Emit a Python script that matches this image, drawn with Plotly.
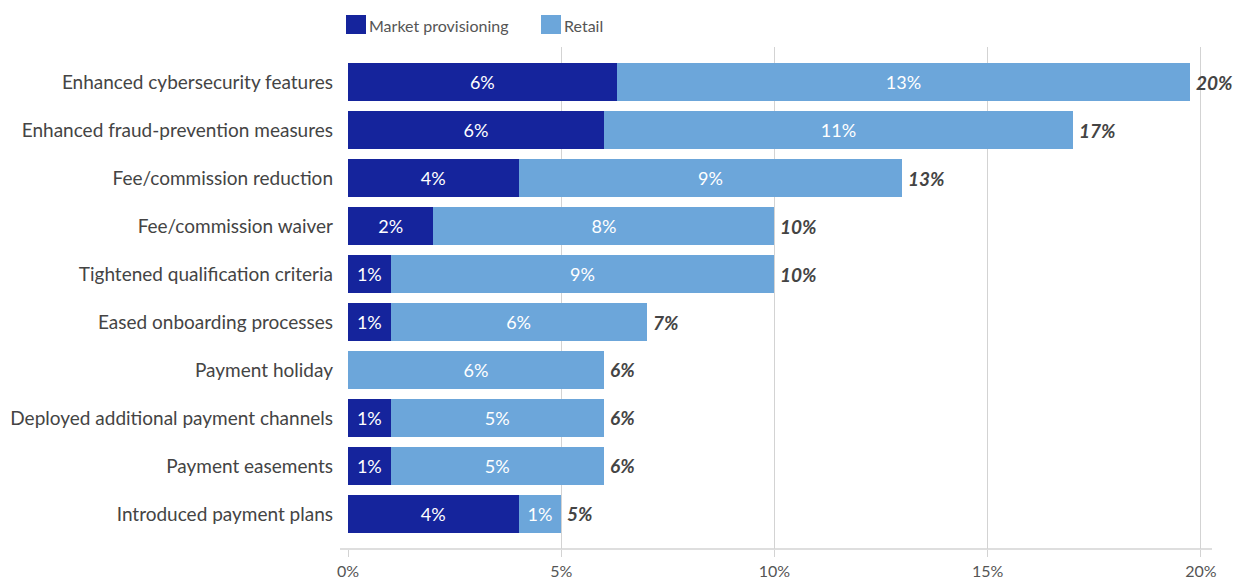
import plotly.graph_objects as go

# Survey responses, top to bottom
categories = [
    "Enhanced cybersecurity features",
    "Enhanced fraud-prevention measures",
    "Fee/commission reduction",
    "Fee/commission waiver",
    "Tightened qualification criteria",
    "Eased onboarding processes",
    "Payment holiday",
    "Deployed additional payment channels",
    "Payment easements",
    "Introduced payment plans",
]
market_provisioning = [6.3, 6, 4, 2, 1, 1, 0, 1, 1, 4]
retail = [13.45, 11, 9, 8, 9, 6, 6, 5, 5, 1]
x_ticks = [0, 5, 10, 15, 20]

DARK = "#15249C"
LIGHT = "#6CA6DA"
TEXT = "#444444"
GRID = "#D3D3D3"
FONT = "Lato"

totals = [m + r for m, r in zip(market_provisioning, retail)]


def seg_labels(vals):
    return [f"{round(v)}%" if v > 0 else "" for v in vals]


fig = go.Figure()
for name, vals, color in [
    ("Market provisioning", market_provisioning, DARK),
    ("Retail", retail, LIGHT),
]:
    fig.add_trace(go.Bar(
        name=name,
        y=categories,
        x=vals,
        orientation="h",
        marker=dict(color=color, line=dict(width=0)),
        text=seg_labels(vals),
        textposition="inside",
        insidetextanchor="middle",
        textangle=0,
        textfont=dict(family=FONT, size=18, color="white"),
        hoverinfo="x+y+name",
        showlegend=False,
    ))

# Total value at the end of each bar
for cat, tot in zip(categories, totals):
    fig.add_annotation(
        x=tot, y=cat, xref="x", yref="y",
        text=f"<b><i>{round(tot)}%</i></b>",
        showarrow=False, xanchor="left", xshift=4,
        font=dict(family=FONT, size=19, color=TEXT),
    )

# Legend drawn as swatches + labels above the plot
legend_items = [("Market provisioning", DARK, 346), ("Retail", LIGHT, 541)]
plot_left, plot_w, plot_h = 348, 864, 502
for label, color, px in legend_items:
    x0 = (px - plot_left) / plot_w
    x1 = (px + 20 - plot_left) / plot_w
    fig.add_shape(type="rect", xref="paper", yref="paper",
                  x0=x0, x1=x1, y0=1 + 13 / plot_h, y1=1 + 32 / plot_h,
                  fillcolor=color, line=dict(width=0))
    fig.add_annotation(xref="paper", yref="paper",
                       x=x1 + 1 / plot_w, y=1 + 22 / plot_h,
                       text=label, showarrow=False,
                       xanchor="left", yanchor="middle",
                       font=dict(family=FONT, size=16, color="#555555"))

# Baseline of the value axis
fig.add_shape(type="line", xref="paper", yref="paper",
              x0=-8 / plot_w, x1=1, y0=0, y1=0,
              line=dict(color=GRID, width=1.5))

fig.update_layout(
    barmode="stack",
    bargap=0.21,
    width=1245, height=582,
    margin=dict(l=348, r=33, t=47, b=33, autoexpand=False),
    paper_bgcolor="white",
    plot_bgcolor="white",
    font=dict(family=FONT, color=TEXT),
    uniformtext=dict(minsize=10, mode="show"),
)
fig.update_xaxes(
    range=[0, 20.26],
    tickvals=x_ticks,
    ticktext=[f"{v}%" for v in x_ticks],
    showgrid=True, gridcolor=GRID, gridwidth=1,
    zeroline=False, showline=False,
    ticks="outside", ticklen=7, tickcolor=GRID,
    ticklabelstandoff=1,
    tickfont=dict(family=FONT, size=16, color="#555555"),
    automargin=False,
    fixedrange=True,
)
fig.update_yaxes(
    categoryorder="array", categoryarray=categories,
    range=[9.73, -0.73],
    showgrid=False, zeroline=False, showline=False,
    ticks="", ticklabelstandoff=14,
    tickfont=dict(family=FONT, size=19, color=TEXT),
    automargin=False,
    fixedrange=True,
)

fig.write_html("out.html")
